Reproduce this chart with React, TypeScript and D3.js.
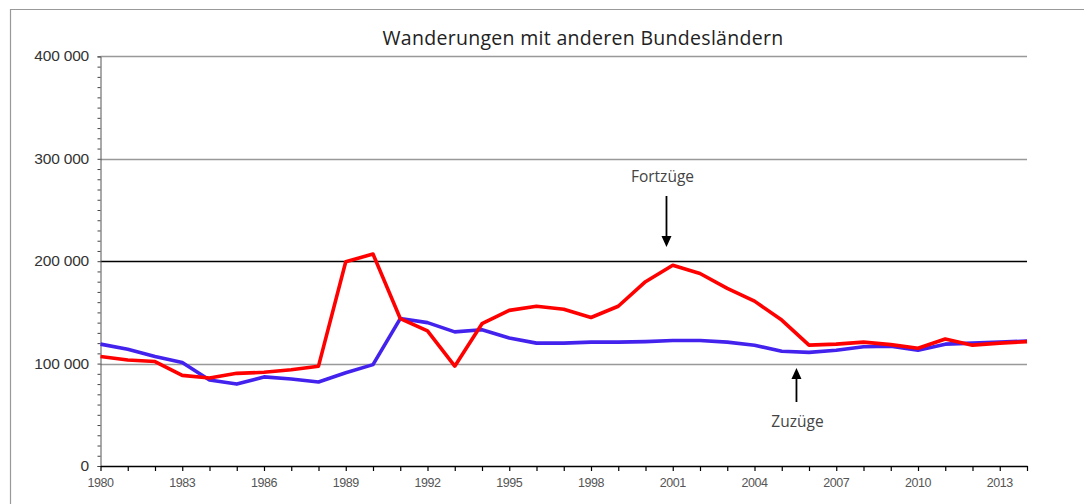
import { useEffect, useRef } from "react";
import * as d3 from "d3";

const years: number[] = d3.range(1980, 2015);
const zuzuege: number[] = [
  119000, 114000, 107000, 101000, 84000, 80000, 87000, 85000, 82000, 91000,
  99000, 144000, 140000, 131000, 133000, 125000, 120000, 120000, 121000, 121000,
  121500, 122500, 122500, 121000, 118000, 112000, 111000, 113000, 116500, 117000,
  113000, 119000, 120000, 121000, 122000,
];
const fortzuege: number[] = [
  107000, 103500, 102000, 88500, 86000, 90500, 91500, 94000, 97500, 199500,
  207000, 144000, 132000, 97500, 139000, 152000, 156000, 153000, 145000, 156000,
  180000, 196000, 188000, 173500, 161000, 142500, 118000, 119000, 121000, 118500,
  115000, 124000, 118000, 120000, 121500,
];
const yTicks: number[] = [0, 100000, 200000, 300000, 400000];
const xLabelYears: number[] = d3.range(1980, 2014, 3);
const title = "Wanderungen mit anderen Bundesländern";

const App = () => {
  const ref = useRef<SVGSVGElement>(null);

  useEffect(() => {
    const svg = d3.select(ref.current);
    svg.selectAll("*").remove();

    const x = d3.scaleLinear().domain([1980, 2014]).range([100.5, 1027]);
    const y = d3.scaleLinear().domain([0, 400000]).range([466, 56.4]);

    // frame
    svg.append("path")
      .attr("d", "M10.5,504 V9.5 H1084")
      .attr("fill", "none")
      .attr("stroke", "#999")
      .attr("stroke-width", 1.2);

    svg.append("text")
      .attr("x", 583)
      .attr("y", 45)
      .attr("text-anchor", "middle")
      .attr("font-family", "'Open Sans', sans-serif")
      .attr("font-size", 19.5)
      .attr("letter-spacing", 0.3)
      .attr("fill", "#222")
      .text(title);

    // grid lines
    svg.append("g").selectAll("line")
      .data(yTicks.filter(d => d > 0))
      .enter().append("line")
      .attr("x1", x(1980)).attr("x2", x(2014))
      .attr("y1", d => Math.round(y(d)) + 0.5)
      .attr("y2", d => Math.round(y(d)) + 0.5)
      .attr("stroke", d => (d === 200000 ? "#000" : "#999"))
      .attr("stroke-width", 1.4);

    // y axis with minor ticks
    const yAxis = d3.axisLeft(y)
      .tickValues(d3.range(0, 400001, 10000))
      .tickSize(3)
      .tickFormat(() => "");
    const gy = svg.append("g")
      .attr("transform", `translate(${x(1980)},0)`)
      .call(yAxis);
    gy.select(".domain").attr("stroke", "#555");
    gy.selectAll(".tick line").attr("stroke", "#444");

    svg.append("g").selectAll("text")
      .data(yTicks)
      .enter().append("text")
      .attr("x", 89)
      .attr("y", d => y(d) + 5)
      .attr("text-anchor", "end")
      .attr("font-family", "'Liberation Sans', Arial, sans-serif")
      .attr("font-size", 15.5)
      .attr("letter-spacing", -0.2)
      .attr("fill", "#333")
      .text(d => d3.format(",")(d).replace(/,/g, " "));

    // x axis
    const xAxis = d3.axisBottom(x)
      .tickValues(years)
      .tickSize(5)
      .tickSizeOuter(0)
      .tickFormat(() => "");
    const gx = svg.append("g")
      .attr("transform", `translate(0,${y(0)})`)
      .call(xAxis);
    gx.select(".domain").attr("stroke", "#000").attr("stroke-width", 1.6);
    gx.selectAll(".tick line").attr("stroke", "#000").attr("stroke-width", 1.2);

    svg.append("g").selectAll("text")
      .data(xLabelYears)
      .enter().append("text")
      .attr("x", d => x(d))
      .attr("y", 487)
      .attr("text-anchor", "middle")
      .attr("font-family", "'Liberation Sans', Arial, sans-serif")
      .attr("font-size", 12.5)
      .attr("letter-spacing", -0.5)
      .attr("fill", "#555")
      .text(d => String(d));

    const line = d3.line<number>()
      .x((_, i) => x(years[i]))
      .y(d => y(d));

    svg.append("path")
      .datum(zuzuege)
      .attr("d", line)
      .attr("fill", "none")
      .attr("stroke", "#4422ee")
      .attr("stroke-width", 3.6)
      .attr("stroke-linejoin", "round");

    svg.append("path")
      .datum(fortzuege)
      .attr("d", line)
      .attr("fill", "none")
      .attr("stroke", "#ff0000")
      .attr("stroke-width", 3.6)
      .attr("stroke-linejoin", "round");

    // annotations
    const annotations = [
      { label: "Fortzüge", year: 2000.77, tail: 263700, tip: 213900, text: 277000 },
      { label: "Zuzüge", year: 2005.54, tail: 62500, tip: 95700, text: 38000 },
    ];
    const ga = svg.append("g");
    annotations.forEach(a => {
      const ax = x(a.year);
      const dir = a.tip < a.tail ? 1 : -1;
      ga.append("line")
        .attr("x1", ax).attr("x2", ax)
        .attr("y1", y(a.tail)).attr("y2", y(a.tip) - dir * 8)
        .attr("stroke", "#000").attr("stroke-width", 1.8);
      ga.append("path")
        .attr("d", `M${ax},${y(a.tip)} L${ax - 5},${y(a.tip) - dir * 11} L${ax + 5},${y(a.tip) - dir * 11} Z`)
        .attr("fill", "#000");
      ga.append("text")
        .attr("x", ax - (dir > 0 ? 4 : -1))
        .attr("y", y(a.text))
        .attr("text-anchor", "middle")
        .attr("font-family", "'Open Sans', sans-serif")
        .attr("font-size", 15.5)
        .attr("fill", "#444")
        .text(a.label);
    });
  }, []);

  return (
    <div>
      <svg
        ref={ref}
        width={1084}
        height={504}
        style={{ position: "absolute", left: 0, top: 0, background: "#fff" }}
      />
    </div>
  );
};

export default App;
